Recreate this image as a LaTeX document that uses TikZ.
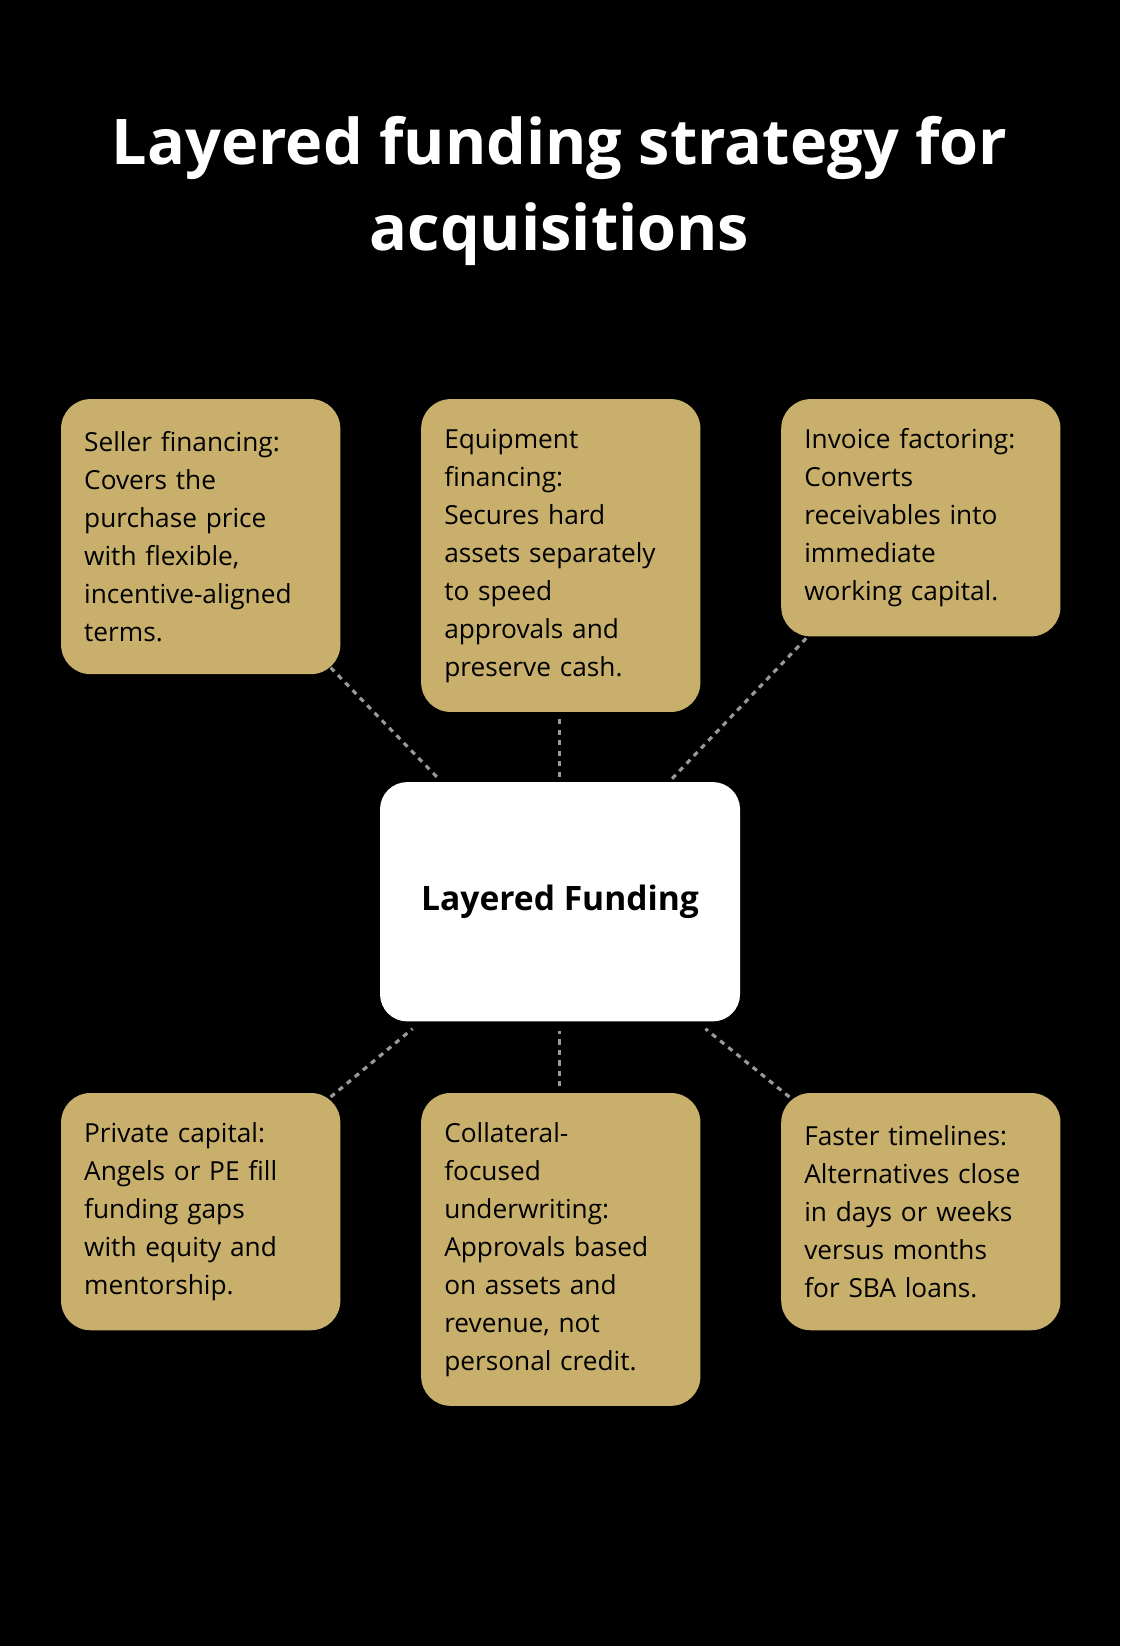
\documentclass[tikz,border=0pt]{standalone}
\usepackage{fontspec}
\setmainfont{Open Sans}
\begin{document}
\begin{tikzpicture}[x=1pt,y=-1pt,
  card/.style={fill=cardgold,rounded corners=28pt,anchor=north west,align=left,
    text width=222pt,inner xsep=22pt,inner ysep=21pt,font=\fontsize{25}{36.2}\selectfont,text=black},
  conn/.style={draw=gray!80,line width=3pt,dash pattern=on 5pt off 5pt}]
\definecolor{cardgold}{HTML}{C8B06C}
\fill[black] (0,0) rectangle (1067,1568);
\useasboundingbox (0,0) rectangle (1067,1568);
\node[text=white,font=\fontsize{60}{82}\selectfont\bfseries,align=center] (title) at (533,182) {Layered funding strategy for\\acquisitions};
\node[card,minimum height=262pt] (a) at (58,380) {Seller financing:\\Covers the\\purchase price\\with flexible,\\incentive-aligned\\terms.};
\node[card,minimum height=298pt] (b) at (401,380) {Equipment\\financing:\\Secures hard\\assets separately\\to speed\\approvals and\\preserve cash.};
\node[card,minimum height=226pt] (c) at (744,380) {Invoice factoring:\\Converts\\receivables into\\immediate\\working capital.};
\node[card,minimum height=226pt] (d) at (58,1041) {Private capital:\\Angels or PE fill\\funding gaps\\with equity and\\mentorship.};
\node[card,minimum height=298pt] (e) at (401,1041) {Collateral-\\focused\\underwriting:\\Approvals based\\on assets and\\revenue, not\\personal credit.};
\node[card,minimum height=226pt] (f) at (744,1041) {Faster timelines:\\Alternatives close\\in days or weeks\\versus months\\for SBA loans.};
\node[fill=white,rounded corners=26pt,minimum width=343pt,minimum height=228pt,font=\fontsize{32}{40}\selectfont\bfseries] (m) at (533.5,859) {Layered Funding};
\coordinate (a1) at (315,636); \coordinate (a2) at (418,742);
\coordinate (b1) at (533,685); \coordinate (b2) at (533,740);
\coordinate (c1) at (768,608); \coordinate (c2) at (640,742);
\coordinate (d1) at (315,1045); \coordinate (d2) at (393,980);
\coordinate (e1) at (533,1035); \coordinate (e2) at (533,982);
\coordinate (f1) at (752,1045); \coordinate (f2) at (672,980);
\draw[conn] (a1) -- (a2); \draw[conn] (b1) -- (b2); \draw[conn] (c1) -- (c2);
\draw[conn] (d1) -- (d2); \draw[conn] (e1) -- (e2); \draw[conn] (f1) -- (f2);
\end{tikzpicture}
\end{document}
